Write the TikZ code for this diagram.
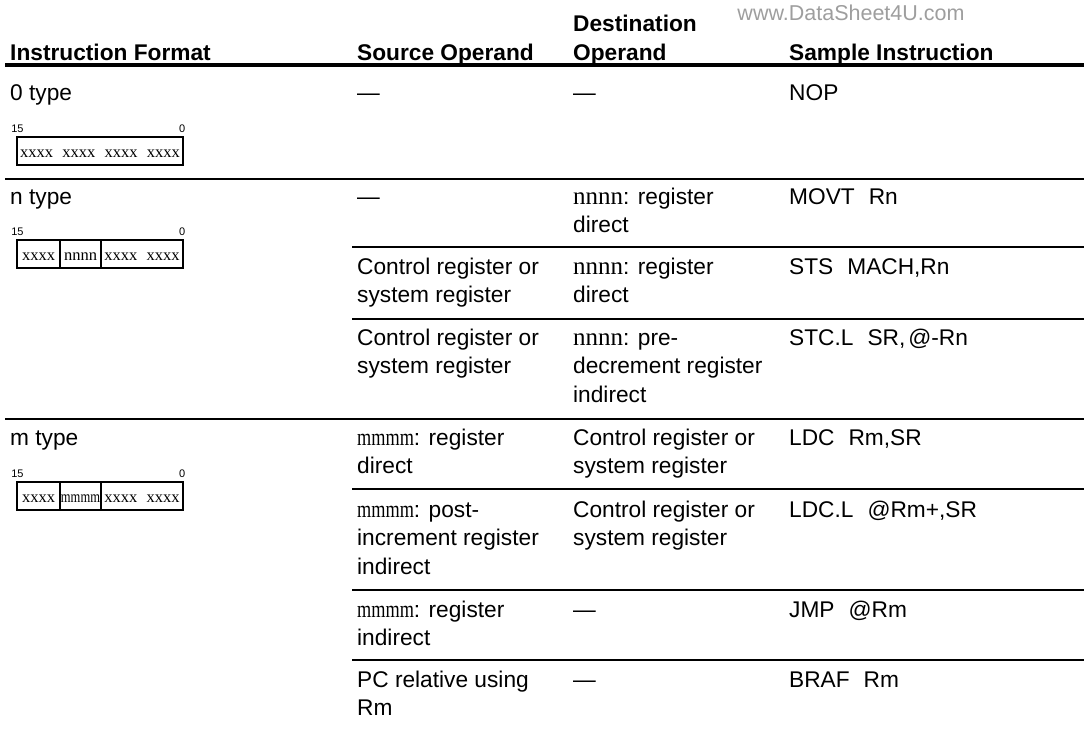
\documentclass[tikz,border=0pt]{standalone}
\usepackage{fontspec}
\setmainfont{Liberation Sans}
\newfontfamily\serifx{Liberation Serif}
\usepackage{graphicx}
\newcommand{\ml}[1]{\begin{tabular}[t]{@{}l@{}}#1\end{tabular}}
\newcommand{\nnnn}{{\fontsize{25}{28.7}\selectfont\serifx nnnn}}
\newcommand{\mmmm}{{\fontsize{24}{28.7}\selectfont\serifx\scalebox{0.76}[1]{mmmm}}}
\newcommand{\gapp}{\hspace{14pt}}
\newcommand{\xg}{\hspace{9.3pt}}
\begin{document}
\begin{tikzpicture}[x=1pt,y=-1pt,
  txt/.style={anchor=base west,inner sep=0pt,font=\fontsize{22.7}{28.7}\selectfont},
  hdr/.style={anchor=base west,inner sep=0pt,font=\fontsize{22.7}{28.7}\selectfont\bfseries},
  wm/.style={inner sep=0pt,font=\fontsize{21.5}{24}\selectfont,text=black!38},
  thickrule/.style={line width=3.5pt},
  rowrule/.style={line width=2.8pt},
  bitlbl/.style={anchor=base,inner sep=0pt,font=\fontsize{11}{13}\selectfont},
  bittxt/.style={anchor=base,inner sep=0pt,font=\fontsize{16.5}{20}\selectfont\serifx},
  boxline/.style={line width=2pt},
  divline/.style={line width=1.2pt}]
\useasboundingbox (0,0) rectangle (1086,729);

% watermark
\node[wm] (wm) at (851,13) {www.DataSheet4U.com};

% header
\node[hdr] (h1) at (10,60) {Instruction Format};
\node[hdr] (h2) at (357,60) {Source Operand};
\node[hdr] (h3) at (573,31.3) {\ml{Destination\\Operand}};
\node[hdr] (h4) at (789,60) {Sample Instruction};
\draw[thickrule] (5,65) -- (1084,65);

% 0 type
\node[txt] (r0a) at (10,100) {0 type};
\node[txt] (r0b) at (357,100) {\textemdash};
\node[txt] (r0c) at (573,100) {\textemdash};
\node[txt] (r0d) at (789,100) {NOP};
\node[bitlbl] (b0hi) at (17.5,132) {15};
\node[bitlbl,anchor=base east] (b0lo) at (185.5,132) {0};
\draw[boxline] (17,137) rectangle (183,165);
\node[bittxt] (b0t) at (100,157) {xxxx\xg xxxx\xg xxxx\xg xxxx};
\draw[rowrule] (5,179) -- (1084,179);

% n type
\node[txt] (n1a) at (10,204) {n type};
\node[txt] (n1b) at (357,204) {\textemdash};
\node[txt] (n1c) at (573,204) {\ml{\nnnn: register\\direct}};
\node[txt] (n1d) at (789,204) {MOVT\gapp Rn};
\node[bitlbl] (bnhi) at (17.5,235) {15};
\node[bitlbl,anchor=base east] (bnlo) at (185.5,235) {0};
\draw[boxline] (17,240) rectangle (183,268);
\draw[divline] (60,240) -- (60,268);
\draw[divline] (101,240) -- (101,268);
\node[bittxt] (bnt1) at (38.5,260) {xxxx};
\node[bittxt] (bnt2) at (80.5,260) {nnnn};
\node[bittxt] (bnt3) at (142,260) {xxxx\xg xxxx};
\draw[rowrule] (352,247) -- (1084,247);

\node[txt] (n2b) at (357,274) {\ml{Control register or\\system register}};
\node[txt] (n2c) at (573,274) {\ml{\nnnn: register\\direct}};
\node[txt] (n2d) at (789,274) {STS\gapp MACH,Rn};
\draw[rowrule] (352,319) -- (1084,319);

\node[txt] (n3b) at (357,345) {\ml{Control register or\\system register}};
\node[txt] (n3c) at (573,345) {\ml{\nnnn: pre-\\decrement register\\indirect}};
\node[txt] (n3d) at (789,345) {STC.L\gapp SR,\hspace{3pt}@-Rn};
\draw[rowrule] (5,419) -- (1084,419);

% m type
\node[txt] (m1a) at (10,445) {m type};
\node[txt] (m1b) at (357,445) {\ml{\mmmm: register\\direct}};
\node[txt] (m1c) at (573,445) {\ml{Control register or\\system register}};
\node[txt] (m1d) at (789,445) {LDC\gapp Rm,SR};
\node[bitlbl] (bmhi) at (17.5,477) {15};
\node[bitlbl,anchor=base east] (bmlo) at (185.5,477) {0};
\draw[boxline] (17,482) rectangle (183,510);
\draw[divline] (60,482) -- (60,510);
\draw[divline] (101,482) -- (101,510);
\node[bittxt] (bmt1) at (38.5,502) {xxxx};
\node[bittxt] (bmt2) at (80.5,502) {\scalebox{0.76}[1]{mmmm}};
\node[bittxt] (bmt3) at (142,502) {xxxx\xg xxxx};
\draw[rowrule] (352,489) -- (1084,489);

\node[txt] (m2b) at (357,517) {\ml{\mmmm: post-\\increment register\\indirect}};
\node[txt] (m2c) at (573,517) {\ml{Control register or\\system register}};
\node[txt] (m2d) at (789,517) {LDC.L\gapp @Rm+,SR};
\draw[rowrule] (352,590) -- (1084,590);

\node[txt] (m3b) at (357,617) {\ml{\mmmm: register\\indirect}};
\node[txt] (m3c) at (573,617) {\textemdash};
\node[txt] (m3d) at (789,617) {JMP\gapp @Rm};
\draw[rowrule] (352,660) -- (1084,660);

\node[txt] (m4b) at (357,687) {\ml{PC relative using\\Rm}};
\node[txt] (m4c) at (573,687) {\textemdash};
\node[txt] (m4d) at (789,687) {BRAF\gapp Rm};
\end{tikzpicture}
\end{document}
